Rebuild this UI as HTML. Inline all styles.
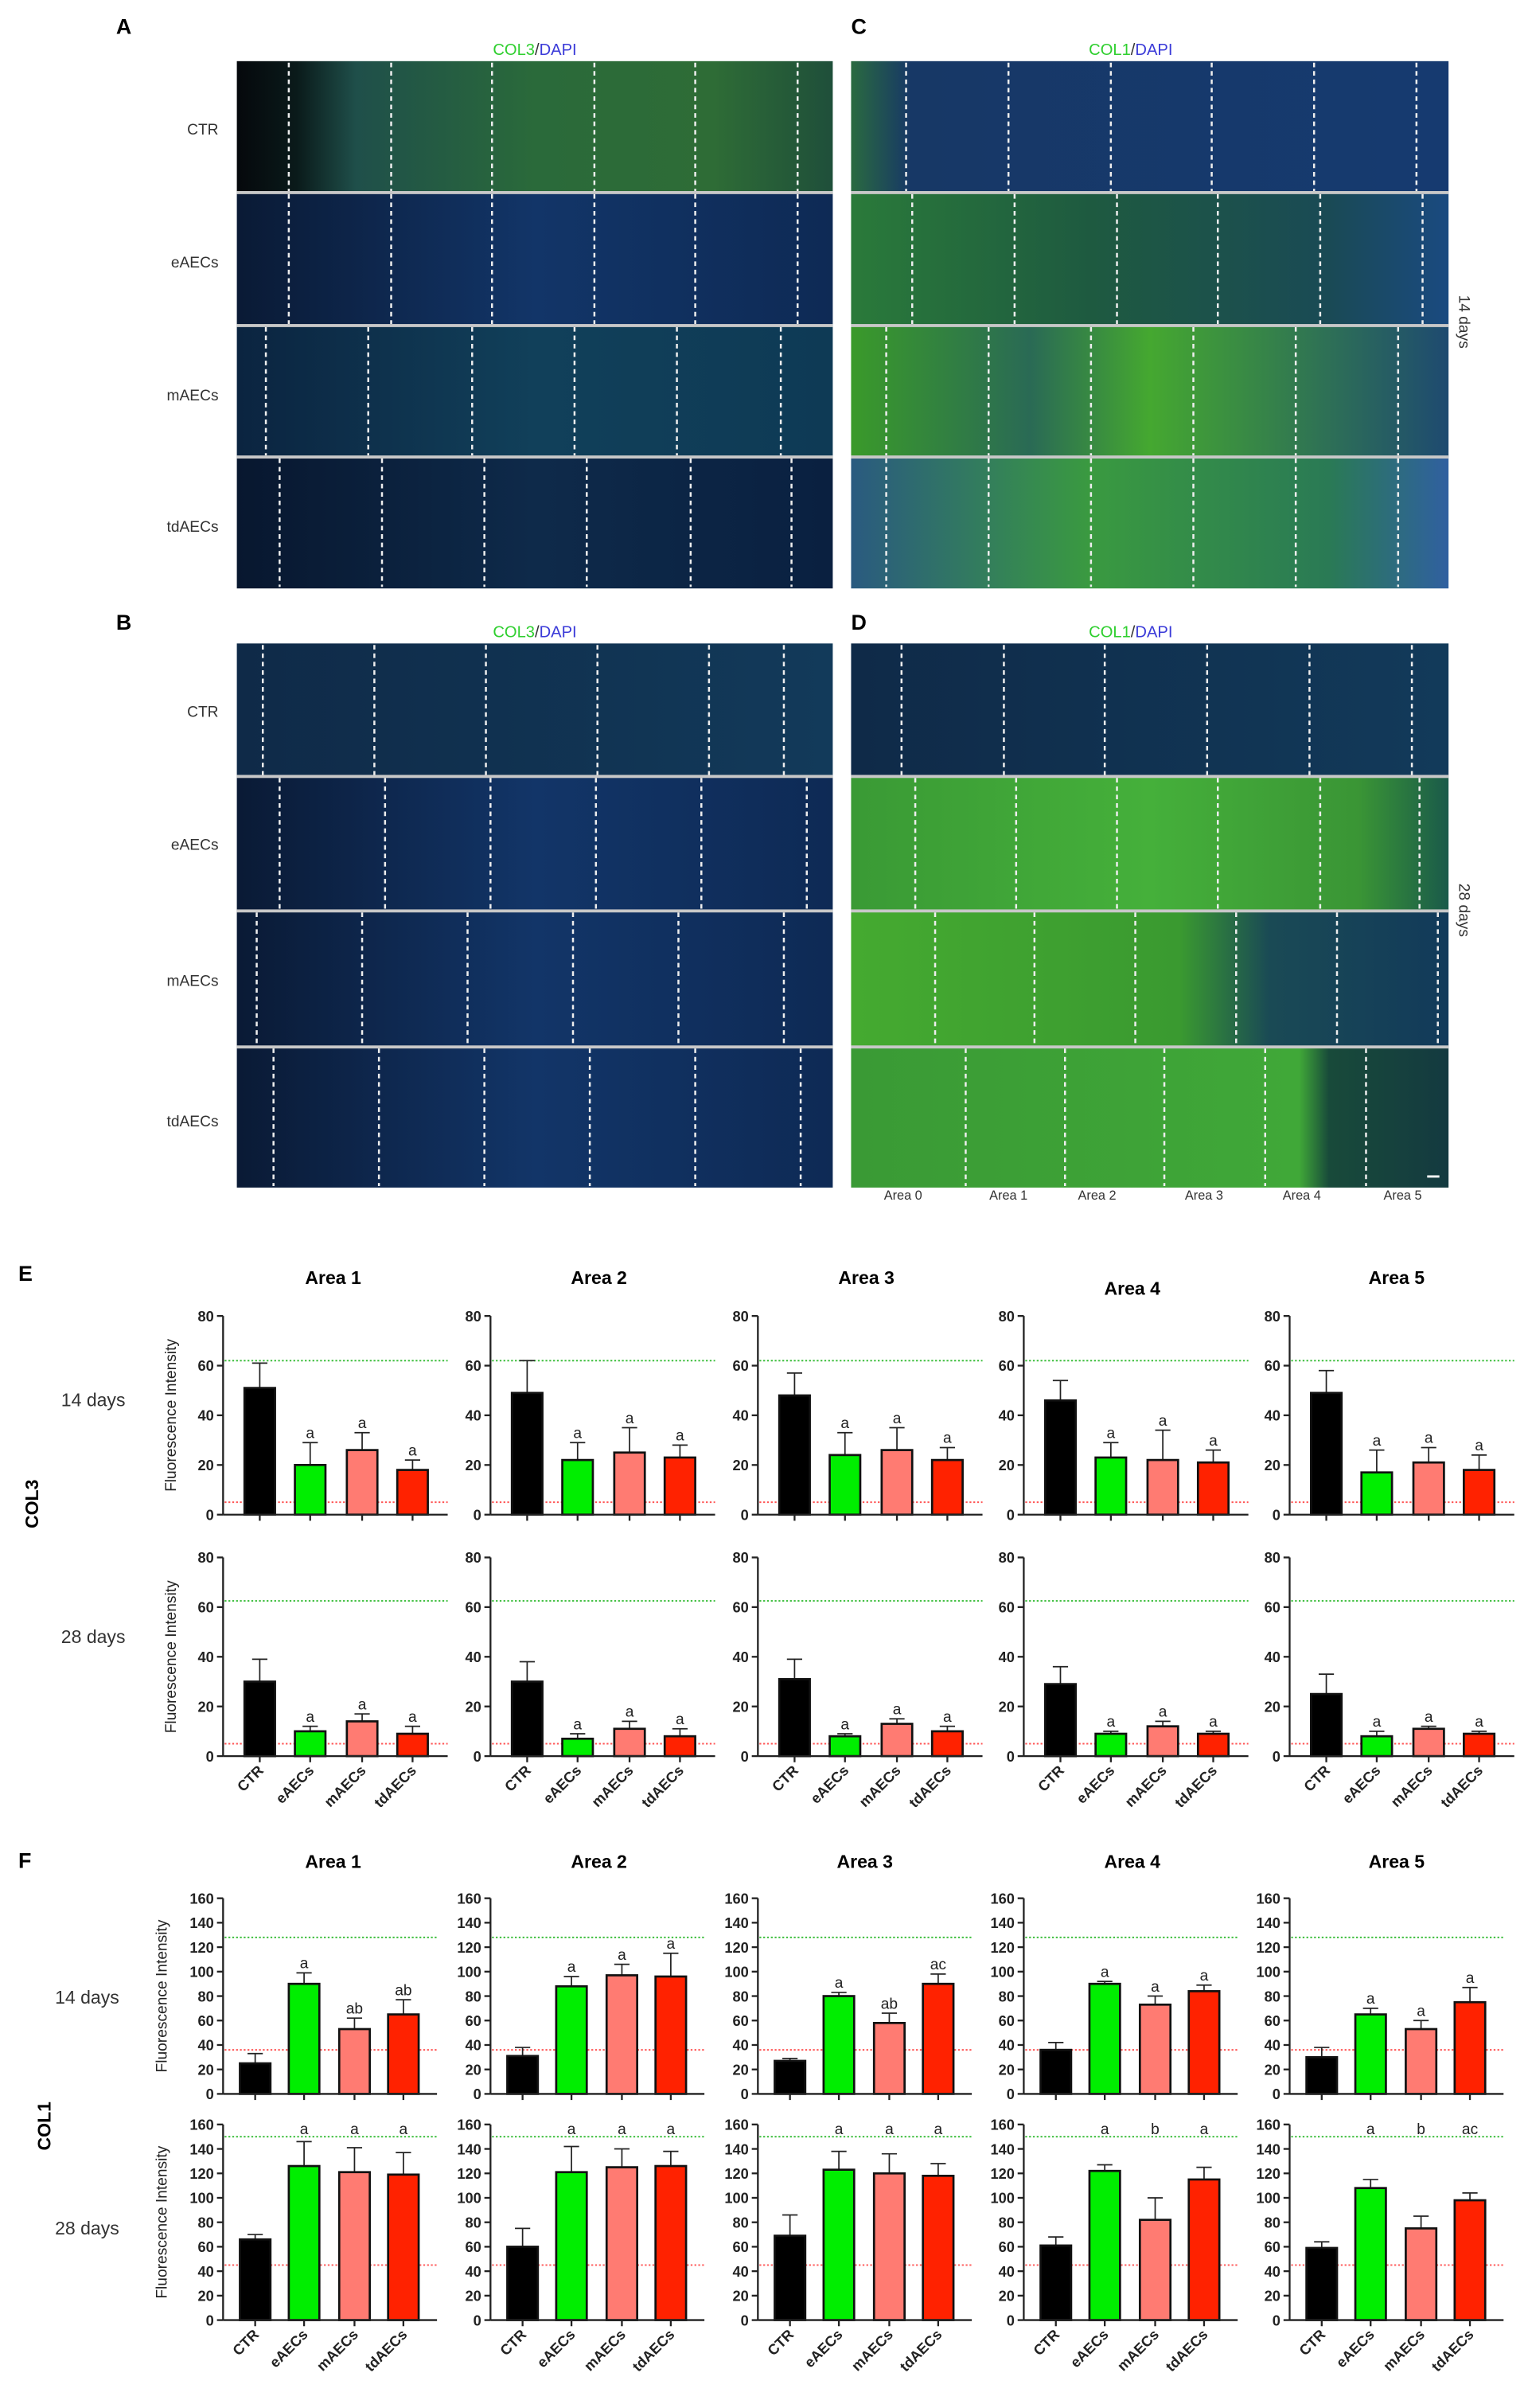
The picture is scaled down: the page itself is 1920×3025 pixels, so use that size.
<!DOCTYPE html>
<html><head><meta charset="utf-8"><style>
html,body{margin:0;padding:0;background:#fff}
svg{display:block}
text{font-family:"Liberation Sans",Arial,sans-serif}
</style></head><body>
<svg id="s" width="1920" height="3025" viewBox="0 0 1000 1575.5" xmlns="http://www.w3.org/2000/svg">
<rect width="1000" height="1575.5" fill="#fff"/>
<defs>
<linearGradient id="gA0" x1="0" x2="1"><stop offset="0" stop-color="#05080c"/><stop offset="0.1" stop-color="#0a1a1a"/><stop offset="0.2" stop-color="#1f4f4a"/><stop offset="0.5" stop-color="#2a6a3a"/><stop offset="0.8" stop-color="#2e6c36"/><stop offset="1" stop-color="#1f4f3a"/></linearGradient>
<linearGradient id="gBlue" x1="0" x2="1"><stop offset="0" stop-color="#0a1a35"/><stop offset="0.5" stop-color="#123568"/><stop offset="1" stop-color="#0e2a55"/></linearGradient>
<linearGradient id="gTeal" x1="0" x2="1"><stop offset="0" stop-color="#0b2440"/><stop offset="0.5" stop-color="#11405a"/><stop offset="1" stop-color="#0e3a55"/></linearGradient>
<linearGradient id="gNavy" x1="0" x2="1"><stop offset="0" stop-color="#08172f"/><stop offset="0.5" stop-color="#0e2a4a"/><stop offset="1" stop-color="#0a2040"/></linearGradient>
<linearGradient id="gC0" x1="0" x2="1"><stop offset="0" stop-color="#2a6a40"/><stop offset="0.1" stop-color="#173866"/><stop offset="1" stop-color="#163a70"/></linearGradient>
<linearGradient id="gC1" x1="0" x2="1"><stop offset="0" stop-color="#2a7a3a"/><stop offset="0.4" stop-color="#1e5a40"/><stop offset="0.8" stop-color="#1a4a55"/><stop offset="1" stop-color="#1a4a80"/></linearGradient>
<linearGradient id="gC2" x1="0" x2="1"><stop offset="0" stop-color="#3a9a2a"/><stop offset="0.3" stop-color="#2a6a55"/><stop offset="0.5" stop-color="#45a830"/><stop offset="1" stop-color="#1e4a70"/></linearGradient>
<linearGradient id="gC3" x1="0" x2="1"><stop offset="0" stop-color="#2a5a80"/><stop offset="0.4" stop-color="#3a9a40"/><stop offset="0.8" stop-color="#2a7a55"/><stop offset="1" stop-color="#3060a0"/></linearGradient>
<linearGradient id="gD0" x1="0" x2="1"><stop offset="0" stop-color="#0f2a48"/><stop offset="1" stop-color="#123a5a"/></linearGradient>
<linearGradient id="gD1" x1="0" x2="1"><stop offset="0" stop-color="#3a9a35"/><stop offset="0.5" stop-color="#45b03a"/><stop offset="0.85" stop-color="#3a9535"/><stop offset="1" stop-color="#1a5a4a"/></linearGradient>
<linearGradient id="gD2" x1="0" x2="1"><stop offset="0" stop-color="#45aa30"/><stop offset="0.55" stop-color="#3a9a30"/><stop offset="0.7" stop-color="#1a4a55"/><stop offset="1" stop-color="#123a5a"/></linearGradient>
<linearGradient id="gD3" x1="0" x2="1"><stop offset="0" stop-color="#3a9a35"/><stop offset="0.75" stop-color="#40a838"/><stop offset="0.8" stop-color="#184a3a"/><stop offset="1" stop-color="#143a40"/></linearGradient>
</defs>

<g font-size="14" font-weight="bold" fill="#000">
<text x="76" y="22">A</text><text x="557" y="22">C</text>
<text x="76" y="412">B</text><text x="557" y="412">D</text>
<text x="12" y="838">E</text><text x="12" y="1222">F</text>
</g>
<g font-size="10.5" text-anchor="middle">
<text x="350" y="36"><tspan fill="#2fcf2f">COL3</tspan><tspan fill="#333">/</tspan><tspan fill="#3a3ad8">DAPI</tspan></text>
<text x="740" y="36"><tspan fill="#2fcf2f">COL1</tspan><tspan fill="#333">/</tspan><tspan fill="#3a3ad8">DAPI</tspan></text>
<text x="350" y="417"><tspan fill="#2fcf2f">COL3</tspan><tspan fill="#333">/</tspan><tspan fill="#3a3ad8">DAPI</tspan></text>
<text x="740" y="417"><tspan fill="#2fcf2f">COL1</tspan><tspan fill="#333">/</tspan><tspan fill="#3a3ad8">DAPI</tspan></text>
</g>
<g font-size="10" fill="#333" text-anchor="end">
<text x="143" y="88">CTR</text><text x="143" y="175">eAECs</text><text x="143" y="262">mAECs</text><text x="143" y="348">tdAECs</text>
<text x="143" y="469">CTR</text><text x="143" y="556">eAECs</text><text x="143" y="645">mAECs</text><text x="143" y="737">tdAECs</text>
</g>
<g font-size="10" fill="#333">
<text transform="translate(955,193) rotate(90)">14 days</text>
<text transform="translate(955,578) rotate(90)">28 days</text>
</g>
<g font-size="8.5" fill="#333" text-anchor="middle">
<text x="591" y="785">Area 0</text><text x="660" y="785">Area 1</text><text x="718" y="785">Area 2</text><text x="788" y="785">Area 3</text><text x="852" y="785">Area 4</text><text x="918" y="785">Area 5</text>
</g>
<g id="imgs"></g>

<g font-size="12" fill="#333">
<text x="40" y="920">14 days</text><text x="40" y="1075">28 days</text>
<text x="36" y="1311">14 days</text><text x="36" y="1462">28 days</text>
</g>
<g font-size="12" font-weight="bold" fill="#000">
<text transform="translate(25,1000) rotate(-90)">COL3</text>
<text transform="translate(33,1407) rotate(-90)">COL1</text>
</g>
<g font-size="12" font-weight="bold" fill="#000" text-anchor="middle">
<text x="218" y="840">Area 1</text><text x="392" y="840">Area 2</text><text x="567" y="840">Area 3</text><text x="741" y="847">Area 4</text><text x="914" y="840">Area 5</text>
<text x="218" y="1222">Area 1</text><text x="392" y="1222">Area 2</text><text x="566" y="1222">Area 3</text><text x="741" y="1222">Area 4</text><text x="914" y="1222">Area 5</text>
</g>
<g id="charts"></g>
</svg>
<script>
var NS="http://www.w3.org/2000/svg";
function el(p,t,a,txt){var e=document.createElementNS(NS,t);for(var k in a)e.setAttribute(k,a[k]);if(txt!=null)e.textContent=txt;p.appendChild(e);return e;}
var im=document.getElementById("imgs");
function panel(x,w,rows,fills,dashes){
  for(var i=0;i<4;i++){
    var y0=rows[i],y1=rows[i+1];
    el(im,"rect",{x:x,y:y0,width:w,height:y1-y0,fill:"url(#"+fills[i]+")"});
    dashes[i].forEach(function(dx){el(im,"line",{x1:dx,x2:dx,y1:y0+1,y2:y1-1,stroke:"#eee","stroke-width":1.3,"stroke-dasharray":"3,2.5"});});
    if(i>0)el(im,"rect",{x:x,y:y0-1,width:w,height:2,fill:"#c8c8c8"});
  }
}
var dA=[[189,256,322,389,455,522],[189,256,322,389,455,522],[174,241,309,376,443,511],[183,250,317,384,452,518]];
panel(155,390,[40,126,213,299,385],["gA0","gBlue","gTeal","gNavy"],dA);
var dC=[[593,660,727,793,860,927],[597,664,731,797,864,931],[580,647,714,781,848,915],[580,647,714,781,848,915]];
panel(557,391,[40,126,213,299,385],["gC0","gC1","gC2","gC3"],dC);
var dB=[[172,245,318,391,464,513],[183,252,321,390,459,528],[168,237,306,375,444,513],[179,248,317,386,455,524]];
panel(155,390,[421,508,596,685,777],["gD0","gBlue","gBlue","gBlue"],dB);
var dD=[[590,657,723,790,857,924],[599,665,731,797,864,929],[612,677,743,809,875,941],[632,697,762,828,894]];
panel(557,391,[421,508,596,685,777],["gD0","gD1","gD2","gD3"],dD);
el(im,"rect",{x:934,y:769,width:8,height:1.5,fill:"#fff"});

var ch=document.getElementById("charts");
var cols=[146,321,496,670,844];
var colors=["#000","#00ee00","#ff7b72","#ff2200"];
var names=["CTR","eAECs","mAECs","tdAECs"];
var rows=[
 {top:861,h:130,max:80,step:20,g:62,r:5,xl:false,d:[
  [[51,61],[20,29,"a"],[26,33,"a"],[18,22,"a"]],
  [[49,62],[22,29,"a"],[25,35,"a"],[23,28,"a"]],
  [[48,57],[24,33,"a"],[26,35,"a"],[22,27,"a"]],
  [[46,54],[23,29,"a"],[22,34,"a"],[21,26,"a"]],
  [[49,58],[17,26,"a"],[21,27,"a"],[18,24,"a"]]]},
 {top:1019,h:130,max:80,step:20,g:62.5,r:5,xl:true,d:[
  [[30,39],[10,12,"a"],[14,17,"a"],[9,12,"a"]],
  [[30,38],[7,9,"a"],[11,14,"a"],[8,11,"a"]],
  [[31,39],[8,9,"a"],[13,15,"a"],[10,12,"a"]],
  [[29,36],[9,10,"a"],[12,14,"a"],[9,10,"a"]],
  [[25,33],[8,10,"a"],[11,12,"a"],[9,10,"a"]]]},
 {top:1242,h:128,max:160,step:20,g:128,r:36,xl:false,d:[
  [[25,33],[90,99,"a"],[53,62,"ab"],[65,77,"ab"]],
  [[31,38],[88,96,"a"],[97,106,"a"],[96,115,"a"]],
  [[27,29],[80,83,"a"],[58,66,"ab"],[90,98,"ac"]],
  [[36,42],[90,92,"a"],[73,80,"a"],[84,89,"a"]],
  [[30,38],[65,70,"a"],[53,60,"a"],[75,87,"a"]]]},
 {top:1390,h:128,max:160,step:20,g:150,r:45,xl:true,d:[
  [[66,70],[126,146,"a"],[121,141,"a"],[119,137,"a"]],
  [[60,75],[121,142,"a"],[125,140,"a"],[126,138,"a"]],
  [[69,86],[123,138,"a"],[120,136,"a"],[118,128,"a"]],
  [[61,68],[122,127,"a"],[82,100,"b"],[115,125,"a"]],
  [[59,64],[108,115,"a"],[75,85,"b"],[98,104,"ac"]]]}
];
rows.forEach(function(R){
  var sc=R.h/R.max;
  R.d.forEach(function(D,ci){
    var g=el(ch,"g",{transform:"translate("+cols[ci]+","+R.top+")"});
    var W=R.max==80?147:140;
    var bx=R.max==80?[24,57,91,124]:[21,53,86,118];
    function Y(v){return R.h-v*sc;}
    el(g,"line",{x1:1,x2:W,y1:Y(R.g),y2:Y(R.g),stroke:"#33bb33","stroke-width":1,"stroke-dasharray":"1.2,1.3"});
    el(g,"line",{x1:1,x2:W,y1:Y(R.r),y2:Y(R.r),stroke:"#ff5555","stroke-width":1,"stroke-dasharray":"1.2,1.3"});
    D.forEach(function(b,i){
      var cx=bx[i],bw=20;
      el(g,"line",{x1:cx,x2:cx,y1:Y(b[1]),y2:Y(b[0]),stroke:"#222","stroke-width":0.9});
      el(g,"line",{x1:cx-5,x2:cx+5,y1:Y(b[1]),y2:Y(b[1]),stroke:"#222","stroke-width":0.9});
      el(g,"rect",{x:cx-bw/2,y:Y(b[0]),width:bw,height:b[0]*sc,fill:colors[i],stroke:"#111","stroke-width":1.4});
      el(g,"line",{x1:cx,x2:cx,y1:R.h,y2:R.h+4,stroke:"#222","stroke-width":1.2});
      if(b[2]){var ly=Y(b[1])-3; if(R.max==160&&R.g==150) ly=Math.min(ly,Y(152));
        el(g,"text",{x:cx,y:ly,"font-size":10,"text-anchor":"middle",fill:"#222"},b[2]);}
      if(R.xl) el(g,"text",{transform:"translate("+(cx+3)+","+(R.h+10)+") rotate(-45)","font-size":9.5,"font-weight":"bold","text-anchor":"end",fill:"#222"},names[i]);
    });
    el(g,"line",{x1:0,x2:0,y1:0,y2:R.h,stroke:"#222","stroke-width":1.2});
    el(g,"line",{x1:0,x2:W,y1:R.h,y2:R.h,stroke:"#222","stroke-width":1.2});
    for(var v=0;v<=R.max;v+=R.step){
      el(g,"line",{x1:-4,x2:0,y1:Y(v),y2:Y(v),stroke:"#222","stroke-width":1.2});
      el(g,"text",{x:-6,y:Y(v)+3.5,"font-size":9.5,"font-weight":"bold","text-anchor":"end",fill:"#222"},String(v));
    }
    if(ci==0){
      var off=R.max==80?-31:-37;
      el(g,"text",{transform:"translate("+off+","+(R.h/2)+") rotate(-90)","font-size":10,"text-anchor":"middle",fill:"#222"},"Fluorescence Intensity");
    }
  });
});
</script>
</body></html>
